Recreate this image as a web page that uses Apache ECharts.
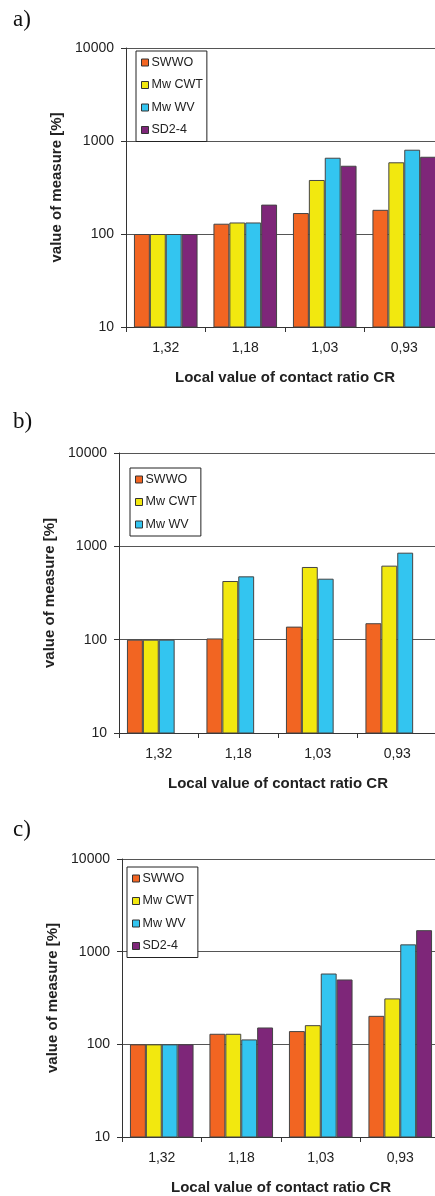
<!DOCTYPE html>
<html>
<head>
<meta charset="utf-8">
<script src="https://cdn.jsdelivr.net/npm/echarts@6/dist/echarts.min.js"></script>
<style>
html,body{margin:0;padding:0;background:#fff;}
#chart{width:435px;height:1196px;}
</style>
</head>
<body>
<div id="chart"></div>
<script>
const categories = ['1,32', '1,18', '1,03', '0,93'];
const seriesNames = ['SWWO', 'Mw CWT', 'Mw WV', 'SD2-4'];
const yTicks = [10, 100, 1000, 10000];
const panelLabels = ['a)', 'b)', 'c)'];
const xAxisTitle = 'Local value of contact ratio CR';
const yAxisTitle = 'value of measure [%]';

// panel a
const aSWWO = [100, 129, 168, 182];
const aMwCWT = [100, 133, 381, 590];
const aMwWV = [100, 133, 661, 806];
const aSD24 = [100, 207, 542, 677];
// panel b
const bSWWO = [100, 103, 138, 150];
const bMwCWT = [100, 425, 601, 621];
const bMwWV = [100, 477, 450, 855];
// panel c
const cSWWO = [100, 130, 139, 203];
const cMwCWT = [100, 130, 161, 313];
const cMwWV = [100, 113, 581, 1199];
const cSD24 = [100, 152, 501, 1706];

const colors = ['#F26522', '#F2E80F', '#33C5F0', '#7E2679'];
const FONT = 'Liberation Sans, Arial, sans-serif';

const panels = [
  { data: [aSWWO, aMwCWT, aMwWV, aSD24], legend: 4, grid: {left: 126, top: 48, height: 279, width: 318}, leg: {left: 136, top: 51}, lab: {x: 13, y: 21} },
  { data: [bSWWO, bMwCWT, bMwWV, []], legend: 3, grid: {left: 119, top: 453, height: 280, width: 318}, leg: {left: 130, top: 468}, lab: {x: 13, y: 423} },
  { data: [cSWWO, cMwCWT, cMwWV, cSD24], legend: 4, grid: {left: 122, top: 859, height: 278, width: 318}, leg: {left: 127, top: 867}, lab: {x: 13, y: 831} }
];

const grid = [], xAxis = [], yAxis = [], series = [], legend = [], graphic = [];
panels.forEach((p, i) => {
  grid.push(Object.assign({outerBoundsMode: 'none', containLabel: false}, p.grid));
  xAxis.push({
    type: 'category', gridIndex: i, data: categories,
    name: xAxisTitle, nameLocation: 'middle', nameGap: 43,
    nameTextStyle: {fontFamily: FONT, fontWeight: 'bold', fontSize: 15, color: '#222'},
    axisLine: {show: true, lineStyle: {color: '#333', width: 1}},
    axisTick: {show: true, length: 5, lineStyle: {color: '#333'}},
    axisLabel: {fontFamily: FONT, fontSize: 14, color: '#222', margin: 14},
    splitLine: {show: false}
  });
  yAxis.push({
    type: 'log', logBase: 10, gridIndex: i, min: 10, max: 10000,
    name: yAxisTitle, nameLocation: 'middle', nameGap: 61,
    nameTextStyle: {fontFamily: FONT, fontWeight: 'bold', fontSize: 15, color: '#222'},
    axisLine: {show: true, lineStyle: {color: '#333', width: 1}},
    axisTick: {show: true, length: 5, lineStyle: {color: '#333'}},
    axisLabel: {fontFamily: FONT, fontSize: 14, color: '#222', margin: 12,
      formatter: v => { const r = Math.round(v); return yTicks.indexOf(r) >= 0 ? String(r) : ''; }},
    splitLine: {show: true, lineStyle: {color: '#555', width: 1}},
    minorTick: {show: false}
  });
  p.data.forEach((d, k) => {
    series.push({
      type: 'bar', name: seriesNames[k], xAxisIndex: i, yAxisIndex: i,
      data: d, barGap: '0%', barCategoryGap: '20%',
      itemStyle: {color: colors[k], borderColor: '#444', borderWidth: 1},
      emphasis: {disabled: true}, animation: false
    });
  });
  legend.push({
    data: seriesNames.slice(0, p.legend), orient: 'vertical',
    left: p.leg.left, top: p.leg.top,
    backgroundColor: '#fff', borderColor: '#222', borderWidth: 1, borderRadius: 0,
    padding: [5, 4, 5, 5], itemWidth: 7, itemHeight: 7, itemGap: 9.5,
    icon: 'rect', selectedMode: false,
    itemStyle: {borderColor: '#333', borderWidth: 1},
    textStyle: {fontFamily: FONT, fontSize: 12.5, color: '#222', lineHeight: 13, padding: [0, 0, 0, -2]}
  });
  graphic.push({
    type: 'text', left: p.lab.x, top: p.lab.y - 13,
    style: {text: panelLabels[i], font: '23px "Liberation Serif", "Times New Roman", serif', fill: '#111'}
  });
});

const chart = echarts.init(document.getElementById('chart'), null, {renderer: 'canvas'});
chart.setOption({
  animation: false, backgroundColor: '#fff',
  grid, xAxis, yAxis, series, legend, graphic
});
</script>
</body>
</html>
